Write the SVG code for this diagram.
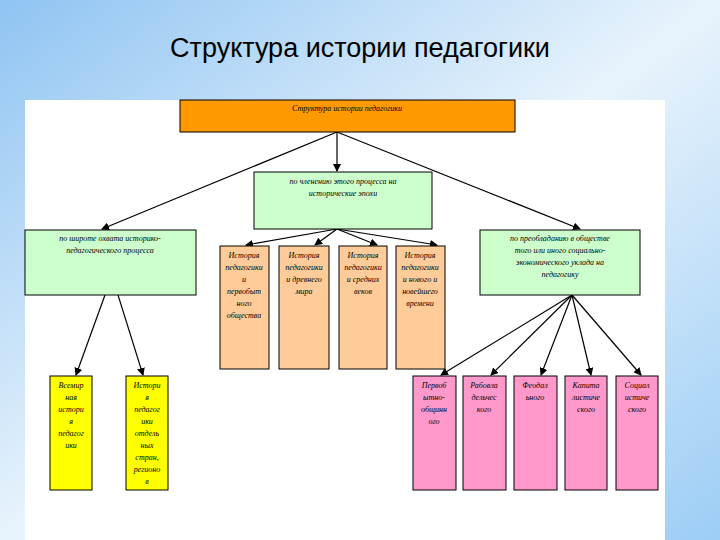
<svg xmlns="http://www.w3.org/2000/svg" width="720" height="540" viewBox="0 0 720 540">
<defs>
<linearGradient id="bg" x1="0" y1="0" x2="1" y2="1"><stop offset="0" stop-color="#8fc4f2"/><stop offset="0.5" stop-color="#e8f3fc"/><stop offset="1" stop-color="#9ccdf5"/></linearGradient>
<marker id="ah" markerWidth="8" markerHeight="8" refX="7" refY="4" orient="auto" markerUnits="userSpaceOnUse"><path d="M0,0 L8,4 L0,8 z" fill="#000"/></marker>
<style>
.b{stroke:#000;stroke-width:1}
.t{font-family:"Liberation Serif",serif;font-style:italic;font-size:8px;text-anchor:middle;fill:#000}
.c line{stroke:#000;stroke-width:1.2;marker-end:url(#ah)}
</style>
</defs>
<rect width="720" height="540" fill="url(#bg)"/>
<text x="360" y="57" font-family="Liberation Sans,sans-serif" font-size="27" text-anchor="middle">Структура истории педагогики</text>
<rect x="25" y="100" width="640" height="440" fill="#fff"/>
<g class="c">
<line x1="337" y1="132" x2="102" y2="229"/>
<line x1="337" y1="132" x2="337" y2="171"/>
<line x1="337" y1="132" x2="580" y2="229"/>
<line x1="337" y1="229" x2="246" y2="245"/>
<line x1="337" y1="229" x2="315" y2="245"/>
<line x1="337" y1="229" x2="377" y2="245"/>
<line x1="337" y1="229" x2="437" y2="245"/>
<line x1="105" y1="295" x2="76" y2="375"/>
<line x1="118" y1="295" x2="143" y2="375"/>
<line x1="572" y1="295" x2="441" y2="375"/>
<line x1="572" y1="295" x2="491" y2="375"/>
<line x1="572" y1="295" x2="541" y2="375"/>
<line x1="572" y1="295" x2="591" y2="375"/>
<line x1="572" y1="295" x2="641" y2="375"/>
</g>
<g id="top"><rect class="b" x="180" y="100" width="335" height="32" fill="#ff9900"/><text class="t" x="347" y="111">Структура истории педагогики</text></g>
<g id="center"><rect class="b" x="254" y="172" width="178" height="57" fill="#ccffcc"/><text class="t" x="343" y="184">по членению этого процесса на</text><text class="t" x="343" y="196">исторические эпохи</text></g>
<g id="left"><rect class="b" x="25" y="230" width="171" height="65" fill="#ccffcc"/><text class="t" x="110" y="241">по широте охвата историко-</text><text class="t" x="110" y="253">педагогического процесса</text></g>
<g id="right"><rect class="b" x="480" y="230" width="160" height="65" fill="#ccffcc"/><text class="t" x="560" y="241">по преобладанию в обществе</text><text class="t" x="560" y="253">того или иного социально-</text><text class="t" x="560" y="265">экономического уклада на</text><text class="t" x="560" y="277">педагогику</text></g>
<g id="p1"><rect class="b" x="220" y="246" width="49" height="123" fill="#ffcc99"/><text class="t" x="244" y="258">История</text><text class="t" x="244" y="270">педагогики</text><text class="t" x="244" y="282">и</text><text class="t" x="244" y="294">первобыт</text><text class="t" x="244" y="306">ного</text><text class="t" x="244" y="318">общества</text></g>
<g id="p2"><rect class="b" x="279" y="246" width="50" height="123" fill="#ffcc99"/><text class="t" x="304" y="258">История</text><text class="t" x="304" y="270">педагогики</text><text class="t" x="304" y="282">и древнего</text><text class="t" x="304" y="294">мира</text></g>
<g id="p3"><rect class="b" x="339" y="246" width="48" height="123" fill="#ffcc99"/><text class="t" x="363" y="258">История</text><text class="t" x="363" y="270">педагогики</text><text class="t" x="363" y="282">и средних</text><text class="t" x="363" y="294">веков</text></g>
<g id="p4"><rect class="b" x="396" y="246" width="49" height="123" fill="#ffcc99"/><text class="t" x="420" y="258">История</text><text class="t" x="420" y="270">педагогики</text><text class="t" x="420" y="282">и нового и</text><text class="t" x="420" y="294">новейшего</text><text class="t" x="420" y="306">времени</text></g>
<g id="y1"><rect class="b" x="50" y="376" width="42" height="114" fill="#ffff00"/><text class="t" x="71" y="388">Всемир</text><text class="t" x="71" y="400">ная</text><text class="t" x="71" y="412">истори</text><text class="t" x="71" y="424">я</text><text class="t" x="71" y="436">педагог</text><text class="t" x="71" y="448">ики</text></g>
<g id="y2"><rect class="b" x="126" y="376" width="42" height="114" fill="#ffff00"/><text class="t" x="147" y="388">Истори</text><text class="t" x="147" y="400">я</text><text class="t" x="147" y="412">педагог</text><text class="t" x="147" y="424">ики</text><text class="t" x="147" y="436">отдель</text><text class="t" x="147" y="448">ных</text><text class="t" x="147" y="460">стран,</text><text class="t" x="147" y="472">регионо</text><text class="t" x="147" y="484">в</text></g>
<g id="k1"><rect class="b" x="413" y="376" width="43" height="114" fill="#ff99cc"/><text class="t" x="434" y="388">Первоб</text><text class="t" x="434" y="400">ытно-</text><text class="t" x="434" y="412">общинн</text><text class="t" x="434" y="424">ого</text></g>
<g id="k2"><rect class="b" x="463" y="376" width="43" height="114" fill="#ff99cc"/><text class="t" x="484" y="388">Рабовла</text><text class="t" x="484" y="400">дельчес</text><text class="t" x="484" y="412">кого</text></g>
<g id="k3"><rect class="b" x="514" y="376" width="43" height="114" fill="#ff99cc"/><text class="t" x="535" y="388">Феодал</text><text class="t" x="535" y="400">ьного</text></g>
<g id="k4"><rect class="b" x="565" y="376" width="42" height="114" fill="#ff99cc"/><text class="t" x="586" y="388">Капита</text><text class="t" x="586" y="400">листиче</text><text class="t" x="586" y="412">ского</text></g>
<g id="k5"><rect class="b" x="616" y="376" width="42" height="114" fill="#ff99cc"/><text class="t" x="637" y="388">Социал</text><text class="t" x="637" y="400">истиче</text><text class="t" x="637" y="412">ского</text></g>
</svg>
